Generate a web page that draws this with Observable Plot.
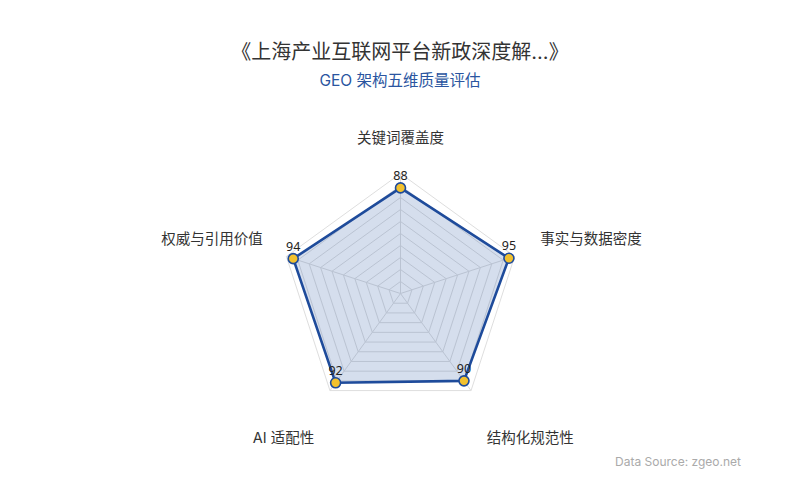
<!DOCTYPE html>
<html>
<head>
<meta charset="utf-8">
<script src="https://cdn.jsdelivr.net/npm/d3@7"></script>
<script src="https://cdn.jsdelivr.net/npm/@observablehq/plot@0.6"></script>
<style>
  html, body { margin: 0; padding: 0; background: #fff; }
  body { width: 800px; height: 500px; position: relative; overflow: hidden;
         font-family: Inter, "Noto Sans CJK SC", "Noto Sans", sans-serif; }
  #title { padding-top: 40px; text-align: center; font-size: 20px; line-height: 24px; color: #333; }
  #subtitle { margin-top: 7px; text-align: center; font-size: 15.5px; line-height: 20px; color: #2a55a0; height: 29px; }
  #source { position: absolute; right: 59px; top: 454px; font-size: 12px; line-height: 16px; color: #aaa; }
  svg { display: block; }
</style>
</head>
<body>
<div id="title">《上海产业互联网平台新政深度解...》</div>
<div id="subtitle">GEO 架构五维质量评估</div>
<div id="chart"></div>
<div id="source">Data Source: zgeo.net</div>
<script>
const indicators = ["关键词覆盖度", "事实与数据密度", "结构化规范性", "AI 适配性", "权威与引用价值"];
const scores = [88, 95, 90, 92, 94];
const maxValue = 100;
const gridLevels = [10, 20, 30, 40, 50, 60, 70, 80, 90, 100];

const n = indicators.length;
const angle = i => (2 * Math.PI * i) / n;
const polar = (i, r) => ({ x: r * Math.sin(angle(i)), y: r * Math.cos(angle(i)) });

// grid rings
const rings = [];
gridLevels.forEach(level => {
  for (let k = 0; k <= n; k++) rings.push({ level, ...polar(k % n, level) });
});
// spokes
const spokes = indicators.map((name, i) => ({ name, ...polar(i, maxValue) }));
// data polygon
const poly = [];
for (let k = 0; k <= n; k++) poly.push({ ...polar(k % n, scores[k % n]) });
const pts = indicators.map((name, i) => ({ name, value: scores[i], ...polar(i, scores[i]) }));
// axis labels
const labelR = maxValue * 1.25;
const labels = indicators.map((name, i) => {
  const s = Math.sin(angle(i)), c = Math.cos(angle(i));
  return { name, s, c, ...polar(i, labelR) };
});

const labelFont = { fontSize: 14.5, fill: "#333", fontFamily: "Inter, 'Noto Sans CJK SC', sans-serif" };

const chart = Plot.plot({
  width: 800,
  height: 400,
  margin: 0,
  x: { domain: [-400 / 1.2, 400 / 1.2], axis: null },
  y: { domain: [-207 / 1.2, 193 / 1.2], axis: null },
  marks: [
    Plot.line(rings, { x: "x", y: "y", z: "level", stroke: "#dedede", strokeWidth: 1 }),
    Plot.link(spokes, { x1: 0, y1: 0, x2: "x", y2: "y", stroke: "#dedede", strokeWidth: 1 }),
    Plot.line(poly, { x: "x", y: "y", fill: "#2b58a6", fillOpacity: 0.2, stroke: "#1e4b9b", strokeWidth: 2.6, strokeLinejoin: "round" }),
    Plot.dot(pts, { x: "x", y: "y", r: 5, fill: "#f2c12e", stroke: "#1e4b9b", strokeWidth: 1.6 }),
    Plot.text(pts, { x: "x", y: "y", text: d => String(d.value), dy: -12, fontSize: 12.5, fill: "#222" }),
    Plot.text(labels.filter(d => Math.abs(d.s) < 0.1), { x: "x", y: "y", text: "name", textAnchor: "middle", dy: -5, ...labelFont }),
    Plot.text(labels.filter(d => d.s >= 0.1 && d.c >= 0), { x: "x", y: "y", text: "name", textAnchor: "start", dx: -3, dy: -8, ...labelFont }),
    Plot.text(labels.filter(d => d.s <= -0.1 && d.c >= 0), { x: "x", y: "y", text: "name", textAnchor: "end", dx: 5, dy: -8, ...labelFont }),
    Plot.text(labels.filter(d => d.s >= 0.1 && d.c < 0), { x: "x", y: "y", text: "name", textAnchor: "start", dx: -2, dy: 24, ...labelFont }),
    Plot.text(labels.filter(d => d.s <= -0.1 && d.c < 0), { x: "x", y: "y", text: "name", textAnchor: "end", dx: 2, dy: 24, ...labelFont })
  ]
});
document.getElementById("chart").appendChild(chart);
</script>
</body>
</html>
